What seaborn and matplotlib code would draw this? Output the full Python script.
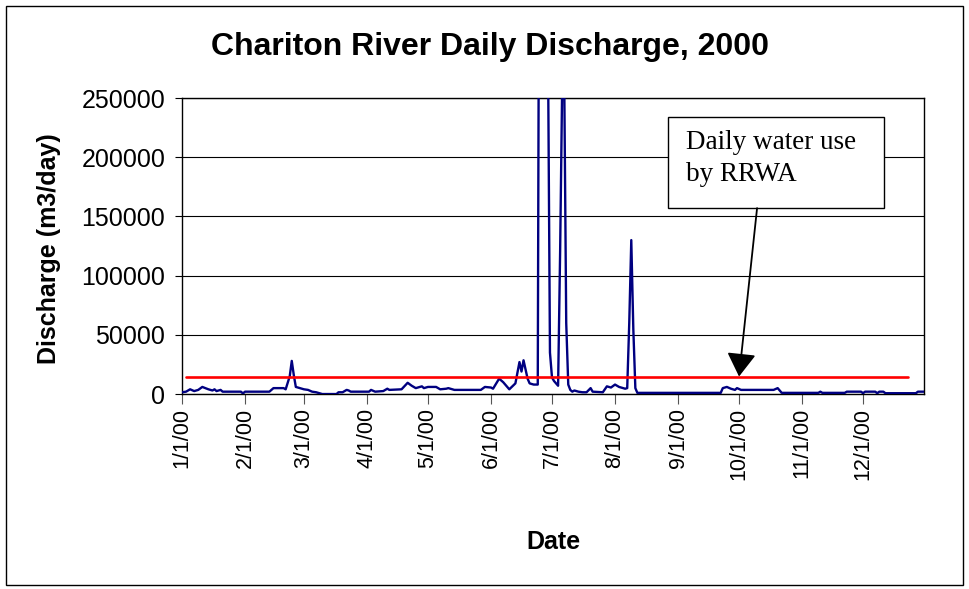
import pandas as pd
import matplotlib
matplotlib.use("Agg")
import matplotlib.pyplot as plt
import matplotlib.ticker as mticker
from matplotlib.patches import Rectangle
import seaborn as sns

# --- DATA ---
flow_dates = [
    "2000-01-01", "2000-01-03", "2000-01-05", "2000-01-07", "2000-01-09", "2000-01-11",
    "2000-01-14", "2000-01-16", "2000-01-17", "2000-01-18", "2000-01-20", "2000-01-21",
    "2000-01-30", "2000-01-31", "2000-02-01", "2000-02-13", "2000-02-15", "2000-02-20",
    "2000-02-21", "2000-02-23", "2000-02-24", "2000-02-25", "2000-02-26", "2000-02-28",
    "2000-03-01", "2000-03-03", "2000-03-05", "2000-03-07", "2000-03-10", "2000-03-17",
    "2000-03-18", "2000-03-20", "2000-03-22", "2000-03-23", "2000-03-24", "2000-04-02",
    "2000-04-03", "2000-04-05", "2000-04-09", "2000-04-11", "2000-04-12", "2000-04-18",
    "2000-04-21", "2000-04-23", "2000-04-25", "2000-04-28", "2000-04-29", "2000-05-01",
    "2000-05-05", "2000-05-07", "2000-05-10", "2000-05-11", "2000-05-14", "2000-05-27",
    "2000-05-29", "2000-06-01", "2000-06-02", "2000-06-05", "2000-06-07", "2000-06-10",
    "2000-06-13", "2000-06-15", "2000-06-16", "2000-06-17", "2000-06-19", "2000-06-20",
    "2000-06-22", "2000-06-24", "2000-06-25", "2000-06-26", "2000-06-27", "2000-06-28",
    "2000-06-29", "2000-06-30", "2000-07-01", "2000-07-02", "2000-07-03", "2000-07-04",
    "2000-07-05", "2000-07-06", "2000-07-07", "2000-07-08", "2000-07-09", "2000-07-10",
    "2000-07-11", "2000-07-12", "2000-07-14", "2000-07-16", "2000-07-18", "2000-07-20",
    "2000-07-21", "2000-07-26", "2000-07-28", "2000-07-30", "2000-08-01", "2000-08-03",
    "2000-08-06", "2000-08-07", "2000-08-08", "2000-08-09", "2000-08-10", "2000-08-11",
    "2000-08-12", "2000-09-22", "2000-09-23", "2000-09-25", "2000-09-27", "2000-09-29",
    "2000-09-30", "2000-10-02", "2000-10-18", "2000-10-20", "2000-10-22", "2000-11-09",
    "2000-11-10", "2000-11-11", "2000-11-12", "2000-11-22", "2000-11-23", "2000-11-30",
    "2000-12-01", "2000-12-02", "2000-12-07", "2000-12-08", "2000-12-09", "2000-12-11",
    "2000-12-12", "2000-12-27", "2000-12-28", "2000-12-31",
]
flow_values = [
    1500, 2000, 4000, 2500, 3500, 6000,
    4000, 3000, 4000, 2500, 3500, 2000,
    2000, 500, 2000, 2000, 5000, 5000,
    4000, 15000, 28000, 16000, 6000, 5000,
    4000, 3500, 2000, 1500, 0, 0,
    1500, 1500, 3500, 3000, 2000, 2000,
    3500, 2000, 2500, 4500, 3500, 4000,
    9500, 7000, 5000, 6500, 5000, 6000,
    6000, 4000, 4500, 5000, 3500, 3500,
    6000, 5500, 4500, 13000, 10000, 4000,
    9000, 27000, 19000, 28500, 13000, 9000,
    8000, 8000, 600000, 900000, 800000, 500000,
    300000, 35000, 14000, 11000, 9000, 7000,
    120000, 260000, 270000, 60000, 8000, 3500,
    2000, 3000, 2000, 1500, 1500, 5000,
    2000, 1500, 6500, 5500, 8000, 6000,
    4500, 5000, 60000, 130000, 55000, 5000,
    1000, 1000, 5000, 6000, 4500, 3500,
    5000, 3500, 3500, 5000, 1000, 1000,
    2000, 1000, 1000, 1000, 2000, 2000,
    700, 2000, 2000, 700, 2000, 2000,
    700, 700, 2000, 2000,
]
use_dates = ["2000-01-03", "2000-12-23"]
use_values = [14800, 14800]

y_ticks = [0, 50000, 100000, 150000, 200000, 250000]
month_ticks = ["2000-01-01", "2000-02-01", "2000-03-01", "2000-04-01", "2000-05-01", "2000-06-01",
               "2000-07-01", "2000-08-01", "2000-09-01", "2000-10-01", "2000-11-01", "2000-12-01"]
month_labels = ["1/1/00", "2/1/00", "3/1/00", "4/1/00", "5/1/00", "6/1/00",
                "7/1/00", "8/1/00", "9/1/00", "10/1/00", "11/1/00", "12/1/00"]

flow = pd.DataFrame({"Date": pd.to_datetime(flow_dates), "Discharge": flow_values})
use = pd.DataFrame({"Date": pd.to_datetime(use_dates), "Discharge": use_values})

# --- PLOT ---
sns.set_style("white")
plt.rcParams["font.family"] = ["Liberation Sans", "DejaVu Sans"]
plt.rcParams["text.color"] = "black"
plt.rcParams["xtick.color"] = "black"
plt.rcParams["ytick.color"] = "black"

fig = plt.figure(figsize=(9.69, 5.89), dpi=100)
ax = fig.add_axes([0.1878, 0.331, 0.7658, 0.5026])

sns.lineplot(data=flow, x="Date", y="Discharge", ax=ax, color="#000080", lw=1.7, zorder=3)
sns.lineplot(data=use, x="Date", y="Discharge", ax=ax, color="#ff0000", lw=1.9, zorder=4)

ax.set_xlim(pd.Timestamp("2000-01-01"), pd.Timestamp("2000-12-31"))
ax.set_ylim(0, 250000)
ax.set_yticks(y_ticks)
ax.yaxis.set_major_formatter(mticker.FuncFormatter(lambda v, p: f"{int(v)}"))
ax.set_xticks(pd.to_datetime(month_ticks))
ax.set_xticklabels(month_labels, rotation=90, fontsize=15.5)
ax.tick_params(axis="y", labelsize=18, length=5, color="black", pad=7, left=True)
ax.tick_params(axis="x", length=7, color="#555555", pad=3, bottom=True)
ax.grid(axis="y", color="black", lw=0.8)
ax.set_axisbelow(True)
for s in ax.spines.values():
    s.set_color("black")
    s.set_linewidth(1.0)
ax.set_xlabel("")
ax.set_ylabel("")

fig.text(0.506, 0.92, "Chariton River Daily Discharge, 2000", ha="center", va="center",
         fontsize=23, fontweight="bold")
fig.text(0.0505, 0.578, "Discharge (m3/day)", rotation=90, ha="center", va="center",
         fontsize=18, fontweight="bold")
fig.text(0.571, 0.080, "Date", ha="center", va="center", fontsize=18, fontweight="bold")

# annotation box + arrow
ax.add_patch(Rectangle((0.655, 0.628), 0.291, 0.308, transform=ax.transAxes,
                       facecolor="white", edgecolor="black", lw=1.0, zorder=5))
ax.text(0.679, 0.893, "Daily water use\nby RRWA", transform=ax.transAxes, ha="left", va="top",
        family=["Liberation Serif", "DejaVu Serif"], fontsize=19.5, linespacing=1.4, zorder=6)
ax.annotate("", xy=(pd.Timestamp("2000-10-01"), 14800), xytext=(0.775, 0.628),
            textcoords="axes fraction",
            arrowprops=dict(arrowstyle="-|>,head_length=0.45,head_width=0.28", mutation_scale=32,
                            color="black", lw=1.3, shrinkA=0, shrinkB=0), zorder=6)

# chart-area border
fig.patches.append(Rectangle((6 / 969, 4 / 589), 957 / 969, 579 / 589, transform=fig.transFigure,
                             fill=False, edgecolor="black", lw=1.0))

fig.savefig("out.png", dpi=100, facecolor="white")
